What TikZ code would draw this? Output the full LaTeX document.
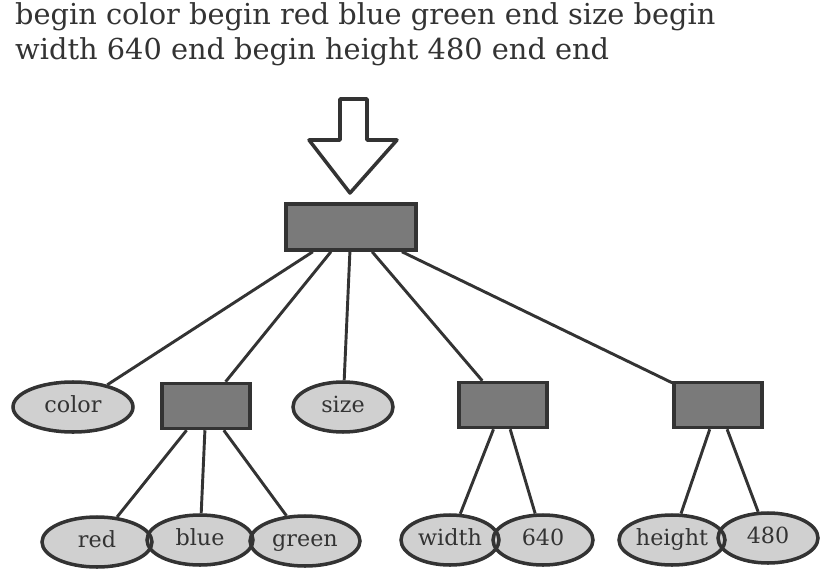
\documentclass[tikz,border=0pt]{standalone}
\usepackage{fontspec}
\setmainfont{DejaVu Serif}
\usetikzlibrary{shapes.geometric,positioning}
\definecolor{ink}{HTML}{333333}
\definecolor{dark}{HTML}{7A7A7A}
\definecolor{light}{HTML}{D0D0D0}
\begin{document}
\begin{tikzpicture}[x=0.3mm,y=-0.3mm,
        box/.style={rectangle,draw=ink,fill=dark,line width=3pt,
          inner sep=0pt,minimum width=88*0.3mm,minimum height=45*0.3mm},
        oval/.style={ellipse,draw=ink,fill=light,line width=3pt,text=ink,
          inner sep=0pt,minimum height=50*0.3mm,text height=1.05em,text depth=0.15em,
          font=\fontsize{19}{22}\selectfont},
        leaf/.style={ellipse,fill=light,text=ink,
          inner sep=0pt,minimum height=50*0.3mm,text height=1.05em,text depth=0.15em,
          font=\fontsize{19}{22}\selectfont},
        rim/.style={ellipse,draw=ink,line width=3pt,
          inner sep=0pt,minimum height=50*0.3mm},
        link/.style={draw=ink,line width=2.5pt},
        line/.style={anchor=base west,inner sep=0pt,text=ink,
          font=\fontsize{24.6}{29}\selectfont}]
      \useasboundingbox (0,0) rectangle (825,570);
      \node (line1) at (15,25) [line] {begin color begin red blue green end size begin};
      \node (line2) at (15,60) [line] {width 640 end begin height 480 end end};
      % top of the tree
      \node (root) at (351,227) [box,minimum width=130*0.3mm,minimum height=46*0.3mm] {};
      \draw[ink,line width=3pt,fill=white,line join=round]
        (340,99) -- (367,99) -- (367,140) -- (397,140) -- (350,193)
        -- (309,140) -- (340,140) -- cycle;
      % middle row
      \node (color) at (73,407) [oval,minimum width=120*0.3mm] {color};
      \node (rgb) at (206,406) [box] {};
      \node (size) at (343,407) [oval,minimum width=100*0.3mm] {size};
      \node (wd) at (503,405) [box] {};
      \node (ht) at (718,405) [box] {};
      % bottom row
      \node (red) at (97,542) [leaf,minimum width=110*0.3mm] {red};
      \node (blue) at (200,540) [leaf,minimum width=106*0.3mm] {blue};
      \node (green) at (305,541) [leaf,minimum width=110*0.3mm] {green};
      \node (width) at (450,540) [leaf,minimum width=98*0.3mm] {width};
      \node (640) at (543,540) [leaf,minimum width=100*0.3mm] {640};
      \node (height) at (672,540) [leaf,minimum width=106*0.3mm] {height};
      \node (480) at (768,538) [leaf,minimum width=100*0.3mm] {480};
      \foreach \n/\w in {red/110,blue/106,green/110,width/98,640/100,height/106,480/100}
        \node (\n-rim) at (\n) [rim,minimum width=\w*0.3mm] {};
      \draw (root) edge[link] (color);
      \draw (root) edge[link] (rgb);
      \draw (root) edge[link] (size);
      \draw (root) edge[link] (wd);
      \draw (root) edge[link] (ht);
      \draw (rgb) edge[link] (red-rim);
      \draw (rgb) edge[link] (blue-rim);
      \draw (rgb) edge[link] (green-rim);
      \draw (wd) edge[link] (width-rim);
      \draw (wd) edge[link] (640-rim);
      \draw (ht) edge[link] (height-rim);
      \draw (ht) edge[link] (480-rim);
\end{tikzpicture}
\end{document}
